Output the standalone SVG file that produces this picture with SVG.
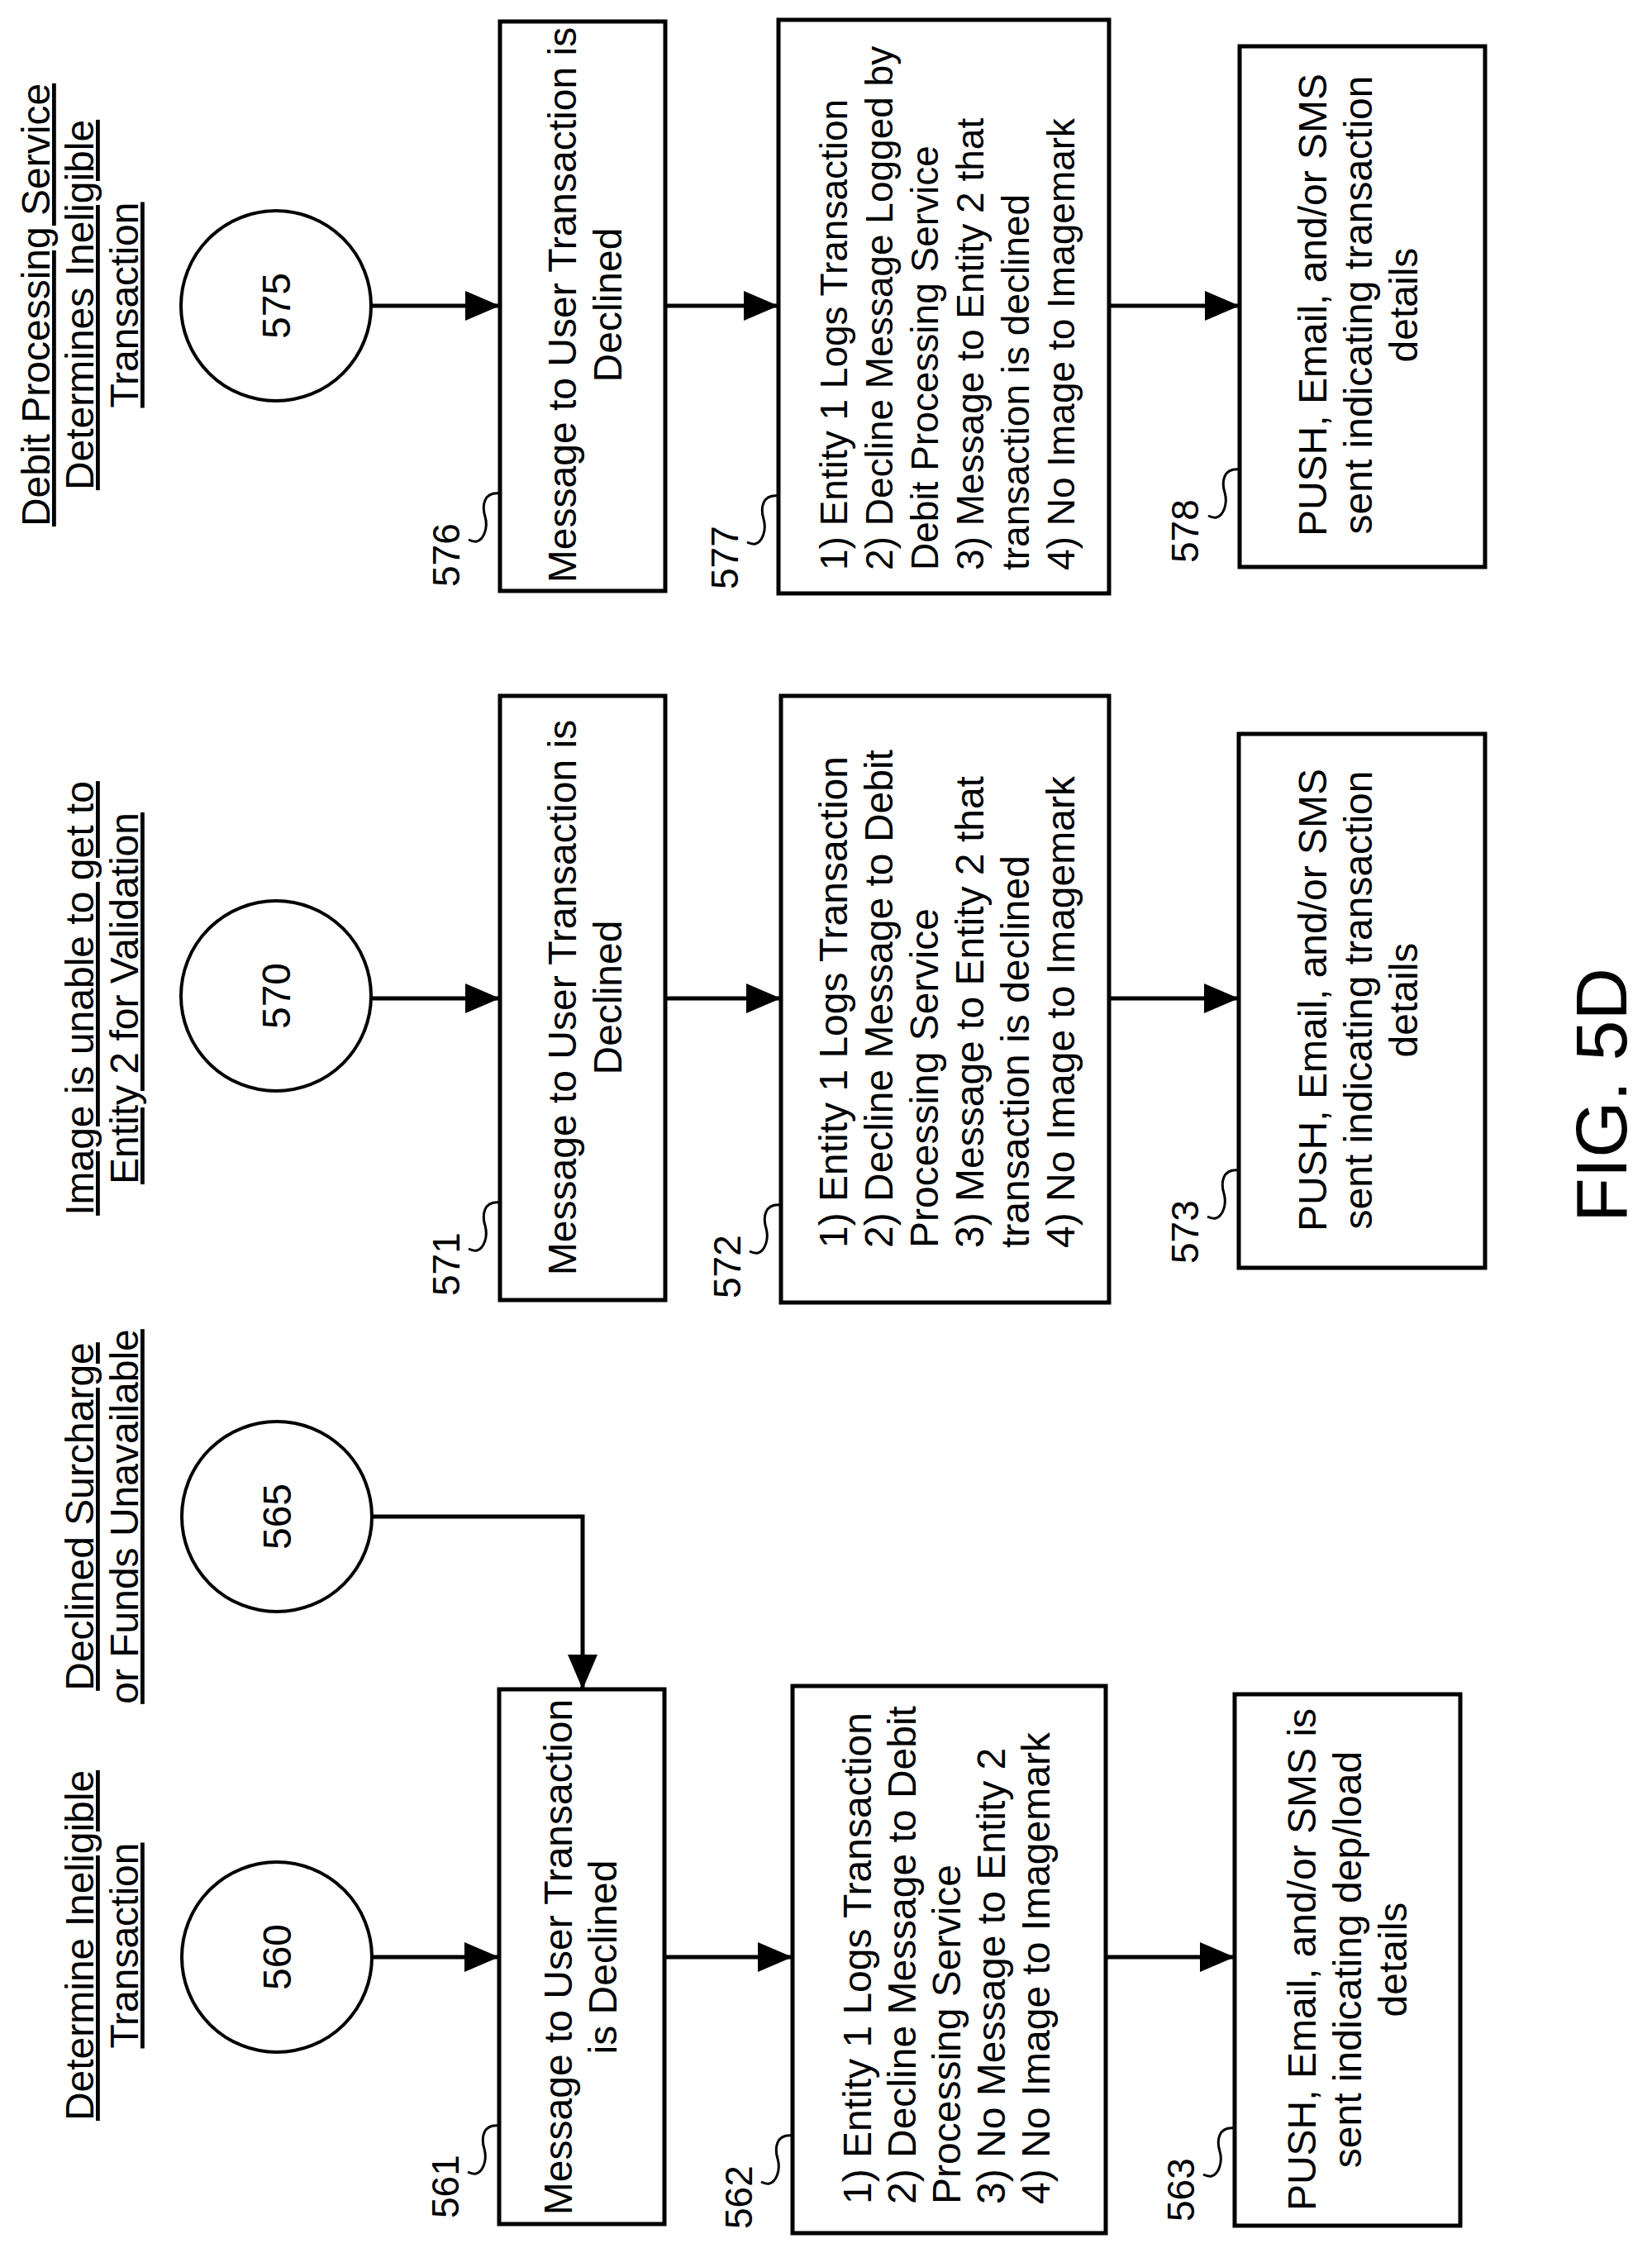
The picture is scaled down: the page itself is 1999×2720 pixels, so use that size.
<svg xmlns="http://www.w3.org/2000/svg" width="1999" height="2720" viewBox="0 0 1999 2720">
<style>
text{font-family:"Liberation Sans",Arial,sans-serif;font-size:48px;fill:#000}
.t{text-decoration:underline}
.c{text-anchor:middle}
.lb{font-size:46px}
.s{font-size:46px}
.box{fill:#fff;stroke:#000;stroke-width:5}
.cir{fill:#fff;stroke:#000;stroke-width:4}
.ln{fill:none;stroke:#000;stroke-width:5}
.sq{fill:none;stroke:#000;stroke-width:3}
</style>
<defs>
<marker id="ah" markerUnits="userSpaceOnUse" markerWidth="42" markerHeight="36" refX="42" refY="18" orient="auto"><path d="M0,0 L42,18 L0,36 z" fill="#000"/></marker>
</defs>
<rect width="1999" height="2720" fill="#fff"/>
<g id="titles">
<text class="t c" transform="rotate(-90 60 369)" x="60" y="369">Debit Processing Service</text>
<text class="t c" transform="rotate(-90 113 369)" x="113" y="369">Determines Ineligible</text>
<text class="t c" transform="rotate(-90 167 369)" x="167" y="369">Transaction</text>
<text class="t c" transform="rotate(-90 113 1208)" x="113" y="1208">Image is unable to get to</text>
<text class="t c" transform="rotate(-90 167 1208)" x="167" y="1208">Entity 2 for Validation</text>
<text class="t c" transform="rotate(-90 113 1835)" x="113" y="1835">Declined Surcharge</text>
<text class="t c" transform="rotate(-90 167 1835)" x="167" y="1835">or Funds Unavailable</text>
<text class="t c" transform="rotate(-90 113 2354)" x="113" y="2354">Determine Ineligible</text>
<text class="t c" transform="rotate(-90 167 2354)" x="167" y="2354">Transaction</text>
</g>
<g id="connectors">
<line class="ln" x1="449" y1="370" x2="605" y2="370" marker-end="url(#ah)"/>
<line class="ln" x1="805" y1="370" x2="942" y2="370" marker-end="url(#ah)"/>
<line class="ln" x1="1342" y1="370" x2="1500" y2="370" marker-end="url(#ah)"/>
<line class="ln" x1="449" y1="1208" x2="605" y2="1208" marker-end="url(#ah)"/>
<line class="ln" x1="805" y1="1208" x2="945" y2="1208" marker-end="url(#ah)"/>
<line class="ln" x1="1342" y1="1208" x2="1499" y2="1208" marker-end="url(#ah)"/>
<line class="ln" x1="450" y1="2368" x2="604" y2="2368" marker-end="url(#ah)"/>
<line class="ln" x1="804" y1="2368" x2="959" y2="2368" marker-end="url(#ah)"/>
<line class="ln" x1="1338" y1="2368" x2="1494" y2="2368" marker-end="url(#ah)"/>
<path class="ln" d="M450,1835 H705 V2044" marker-end="url(#ah)"/>
</g>
<g id="n575"><circle class="cir" cx="334" cy="370" r="115"/><text class="c" transform="rotate(-90 351 370)" x="351" y="370">575</text></g>
<g id="n570"><circle class="cir" cx="334" cy="1205" r="115"/><text class="c" transform="rotate(-90 351 1205)" x="351" y="1205">570</text></g>
<g id="n565"><circle class="cir" cx="335" cy="1835" r="115"/><text class="c" transform="rotate(-90 352 1835)" x="352" y="1835">565</text></g>
<g id="n560"><circle class="cir" cx="335" cy="2368" r="115"/><text class="c" transform="rotate(-90 352 2368)" x="352" y="2368">560</text></g>

<g id="n576"><rect class="box" x="605" y="26" width="200" height="689"/>
<text class="c" transform="rotate(-90 697 369)" x="697" y="369">Message to User Transaction is</text>
<text class="c" transform="rotate(-90 752 369)" x="752" y="369">Declined</text>
<path class="sq" d="M605,597 c-20,-2 -22,15 -18,28 c4,14 -2,28 -10,30 c-4,1 -8,-1 -10,-2"/>
<text class="lb" transform="rotate(-90 556 710)" x="556" y="710">576</text></g>

<g id="n577"><rect class="box" x="942" y="24" width="400" height="694"/>
<text class="s" transform="rotate(-90 1025 690)" x="1025" y="690">1) Entity 1 Logs Transaction</text>
<text class="s" transform="rotate(-90 1080 690)" x="1080" y="690">2) Decline Message Logged by</text>
<text class="s" transform="rotate(-90 1135 690)" x="1135" y="690">Debit Processing Service</text>
<text class="s" transform="rotate(-90 1190 690)" x="1190" y="690">3) Message to Entity 2 that</text>
<text class="s" transform="rotate(-90 1245 690)" x="1245" y="690">transaction is declined</text>
<text class="s" transform="rotate(-90 1300 690)" x="1300" y="690">4) No Image to Imagemark</text>
<path class="sq" d="M942,600 c-20,-2 -22,15 -18,28 c4,14 -2,28 -10,30 c-4,1 -8,-1 -10,-2"/>
<text class="lb" transform="rotate(-90 893 713)" x="893" y="713">577</text></g>

<g id="n578"><rect class="box" x="1500" y="56" width="297" height="630"/>
<text class="c" transform="rotate(-90 1605 369)" x="1605" y="369">PUSH, Email, and/or SMS</text>
<text class="c" transform="rotate(-90 1660 369)" x="1660" y="369">sent indicating transaction</text>
<text class="c" transform="rotate(-90 1715 369)" x="1715" y="369">details</text>
<path class="sq" d="M1500,568 c-20,-2 -22,15 -18,28 c4,14 -2,28 -10,30 c-4,1 -8,-1 -10,-2"/>
<text class="lb" transform="rotate(-90 1450 681)" x="1450" y="681">578</text></g>

<g id="n571"><rect class="box" x="605" y="842" width="200" height="731"/>
<text class="c" transform="rotate(-90 697 1207)" x="697" y="1207">Message to User Transaction is</text>
<text class="c" transform="rotate(-90 752 1207)" x="752" y="1207">Declined</text>
<path class="sq" d="M605,1455 c-20,-2 -22,15 -18,28 c4,14 -2,28 -10,30 c-4,1 -8,-1 -10,-2"/>
<text class="lb" transform="rotate(-90 556 1568)" x="556" y="1568">571</text></g>

<g id="n572"><rect class="box" x="945" y="842" width="397" height="734"/>
<text transform="rotate(-90 1025 1510)" x="1025" y="1510">1) Entity 1 Logs Transaction</text>
<text transform="rotate(-90 1080 1510)" x="1080" y="1510">2) Decline Message to Debit</text>
<text transform="rotate(-90 1135 1510)" x="1135" y="1510">Processing Service</text>
<text transform="rotate(-90 1190 1510)" x="1190" y="1510">3) Message to Entity 2 that</text>
<text transform="rotate(-90 1245 1510)" x="1245" y="1510">transaction is declined</text>
<text transform="rotate(-90 1300 1510)" x="1300" y="1510">4) No Image to Imagemark</text>
<path class="sq" d="M945,1458 c-20,-2 -22,15 -18,28 c4,14 -2,28 -10,30 c-4,1 -8,-1 -10,-2"/>
<text class="lb" transform="rotate(-90 896 1571)" x="896" y="1571">572</text></g>

<g id="n573"><rect class="box" x="1499" y="888" width="298" height="646"/>
<text class="c" transform="rotate(-90 1605 1210)" x="1605" y="1210">PUSH, Email, and/or SMS</text>
<text class="c" transform="rotate(-90 1660 1210)" x="1660" y="1210">sent indicating transaction</text>
<text class="c" transform="rotate(-90 1715 1210)" x="1715" y="1210">details</text>
<path class="sq" d="M1499,1416 c-20,-2 -22,15 -18,28 c4,14 -2,28 -10,30 c-4,1 -8,-1 -10,-2"/>
<text class="lb" transform="rotate(-90 1450 1529)" x="1450" y="1529">573</text></g>

<g id="n561"><rect class="box" x="604" y="2044" width="200" height="647"/>
<text class="c" transform="rotate(-90 692 2368)" x="692" y="2368">Message to User Transaction</text>
<text class="c" transform="rotate(-90 746 2368)" x="746" y="2368">is Declined</text>
<path class="sq" d="M604,2572 c-20,-2 -22,15 -18,28 c4,14 -2,28 -10,30 c-4,1 -8,-1 -10,-2"/>
<text class="lb" transform="rotate(-90 555 2684)" x="555" y="2684">561</text></g>

<g id="n562"><rect class="box" x="959" y="2040" width="379" height="662"/>
<text transform="rotate(-90 1054 2667)" x="1054" y="2667">1) Entity 1 Logs Transaction</text>
<text transform="rotate(-90 1108 2667)" x="1108" y="2667">2) Decline Message to Debit</text>
<text transform="rotate(-90 1162 2667)" x="1162" y="2667">Processing Service</text>
<text transform="rotate(-90 1216 2667)" x="1216" y="2667">3) No Message to Entity 2</text>
<text transform="rotate(-90 1270 2667)" x="1270" y="2667">4) No Image to Imagemark</text>
<path class="sq" d="M959,2584 c-20,-2 -22,15 -18,28 c4,14 -2,28 -10,30 c-4,1 -8,-1 -10,-2"/>
<text class="lb" transform="rotate(-90 910 2697)" x="910" y="2697">562</text></g>

<g id="n563"><rect class="box" x="1494" y="2050" width="273" height="643"/>
<text class="c" transform="rotate(-90 1592 2371)" x="1592" y="2371">PUSH, Email, and/or SMS is</text>
<text class="c" transform="rotate(-90 1647 2371)" x="1647" y="2371">sent indicating dep/load</text>
<text class="c" transform="rotate(-90 1702 2371)" x="1702" y="2371">details</text>
<path class="sq" d="M1494,2575 c-20,-2 -22,15 -18,28 c4,14 -2,28 -10,30 c-4,1 -8,-1 -10,-2"/>
<text class="lb" transform="rotate(-90 1445 2688)" x="1445" y="2688">563</text></g>

<text class="c" style="font-size:88px" transform="rotate(-90 1968 1325)" x="1968" y="1325">FIG. 5D</text>
</svg>
